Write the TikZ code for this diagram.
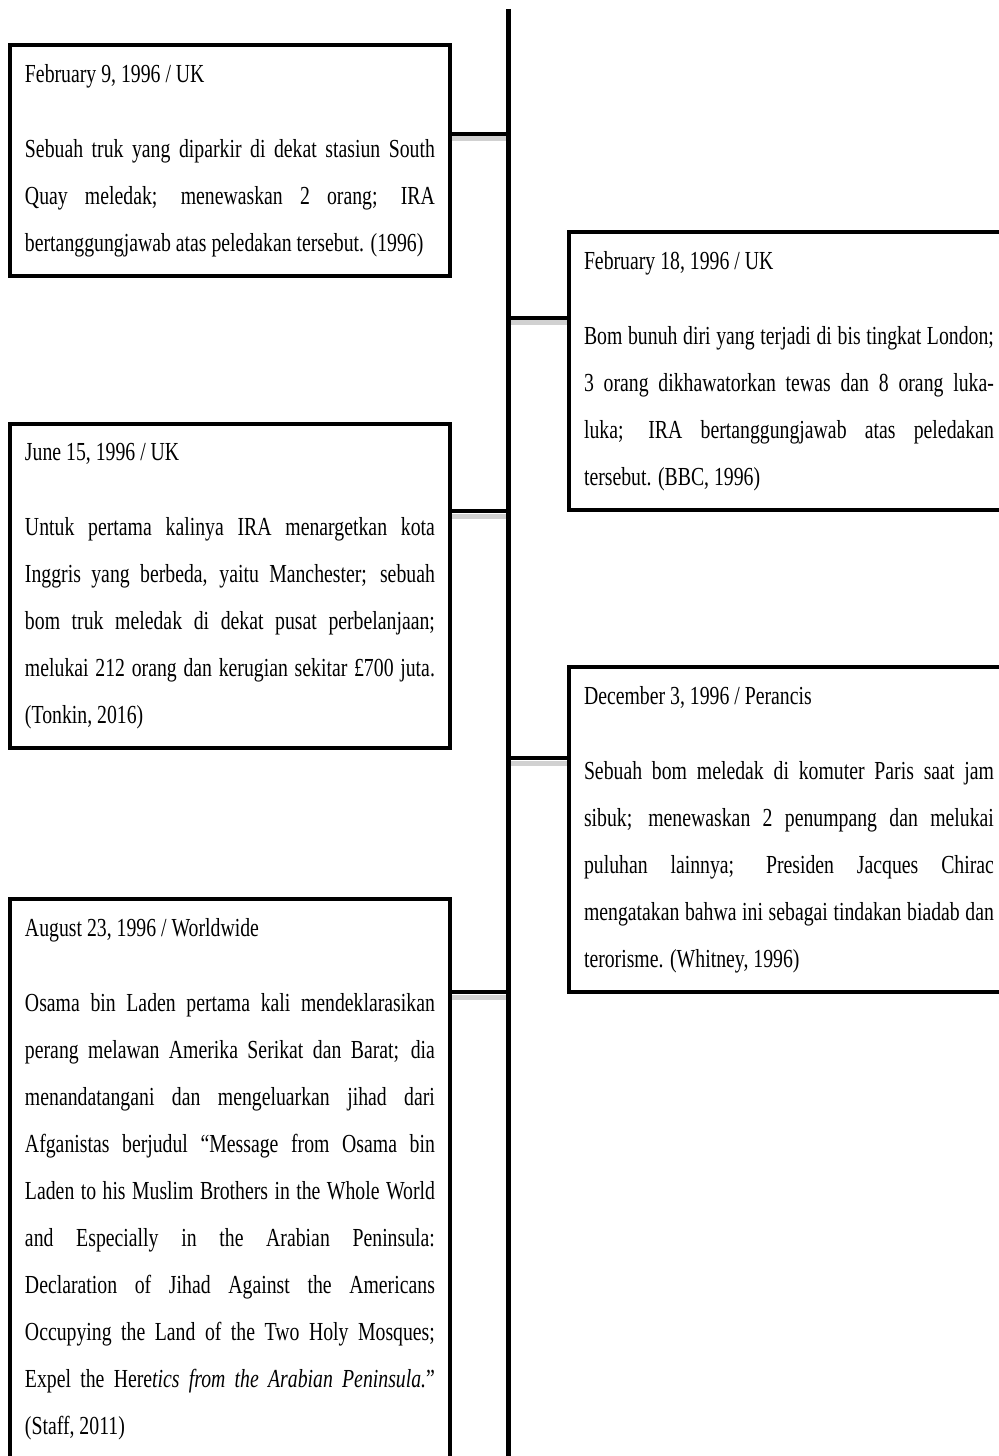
\documentclass[tikz,border=0pt]{standalone}
\usepackage{fontspec}
\setmainfont[FakeStretch=0.76]{Liberation Serif}
\tikzset{>=latex}
\tikzset{
  event/.style={draw, line width=0.08cm, anchor=north west, text width=8.2cm, inner xsep=0.3cm, inner ysep=0.38cm, align=justify, font=\fontsize{14.8pt}{26.75pt}\selectfont},
  spine/.style={line width=0.1cm},
  link/.style={line width=0.08cm},
  linkshadow/.style={line width=0.1cm, black!18}
}
\newcommand\jl[1]{\makebox[\hsize][s]{#1}\\}

\begin{document}
\begin{tikzpicture}[x=0.02cm, y=-0.02cm]
      \useasboundingbox (0,0) rectangle (999,1456);
      \node[event] (n0) at (8,43) {February 9, 1996 / UK\\[0.56cm]
        \jl{Sebuah truk yang diparkir di dekat stasiun South}
        \jl{Quay meledak; menewaskan 2 orang; IRA}
        bertanggungjawab atas peledakan tersebut. (1996)};
      \node[event] (n1) at (567,230) {February 18, 1996 / UK\\[0.56cm]
        \jl{Bom bunuh diri yang terjadi di bis tingkat London;}
        \jl{3 orang dikhawatorkan tewas dan 8 orang luka-}
        \jl{luka; IRA bertanggungjawab atas peledakan}
        tersebut. (BBC, 1996)};
      \node[event] (n2) at (8,422) {June 15, 1996 / UK\\[0.56cm]
        \jl{Untuk pertama kalinya IRA menargetkan kota}
        \jl{Inggris yang berbeda, yaitu Manchester; sebuah}
        \jl{bom truk meledak di dekat pusat perbelanjaan;}
        \jl{melukai 212 orang dan kerugian sekitar £700 juta.}
        (Tonkin, 2016)};
      \node[event] (n3) at (567,665) {December 3, 1996 / Perancis\\[0.56cm]
        \jl{Sebuah bom meledak di komuter Paris saat jam}
        \jl{sibuk; menewaskan 2 penumpang dan melukai}
        \jl{puluhan lainnya; Presiden Jacques Chirac}
        \jl{mengatakan bahwa ini sebagai tindakan biadab dan}
        terorisme. (Whitney, 1996)};
      \node[event] (n4) at (8,897) {August 23, 1996 / Worldwide\\[0.56cm]
        \jl{Osama bin Laden pertama kali mendeklarasikan}
        \jl{perang melawan Amerika Serikat dan Barat; dia}
        \jl{menandatangani dan mengeluarkan jihad dari}
        \jl{Afganistas berjudul “Message from Osama bin}
        \jl{Laden to his Muslim Brothers in the Whole World}
        \jl{and Especially in the Arabian Peninsula:}
        \jl{Declaration of Jihad Against the Americans}
        \jl{Occupying the Land of the Two Holy Mosques;}
        \jl{Expel the Here\textit{tics from the Arabian Peninsula.}”}
        (Staff, 2011)};
      \coordinate (top) at (508,9);
      \coordinate (bottom) at (508,1470);
      \coordinate (aux0) at (508,134);
      \coordinate (aux1) at (508,318);
      \coordinate (aux2) at (508,511);
      \coordinate (aux3) at (508,758);
      \coordinate (aux4) at (508,992);
      \draw[linkshadow] ([yshift=-0.1cm]n0.east |- aux0) -- ([yshift=-0.1cm]aux0);
      \draw[linkshadow] ([yshift=-0.1cm]aux1) -- ([yshift=-0.1cm]n1.west |- aux1);
      \draw[linkshadow] ([yshift=-0.1cm]n2.east |- aux2) -- ([yshift=-0.1cm]aux2);
      \draw[linkshadow] ([yshift=-0.1cm]aux3) -- ([yshift=-0.1cm]n3.west |- aux3);
      \draw[linkshadow] ([yshift=-0.1cm]n4.east |- aux4) -- ([yshift=-0.1cm]aux4);
      \draw[spine] (top) -- (bottom);
      \draw[link] (n0.east |- aux0) -- (aux0);
      \draw[link] (aux1) -- (n1.west |- aux1);
      \draw[link] (n2.east |- aux2) -- (aux2);
      \draw[link] (aux3) -- (n3.west |- aux3);
      \draw[link] (n4.east |- aux4) -- (aux4);
    \end{tikzpicture}
\end{document}
